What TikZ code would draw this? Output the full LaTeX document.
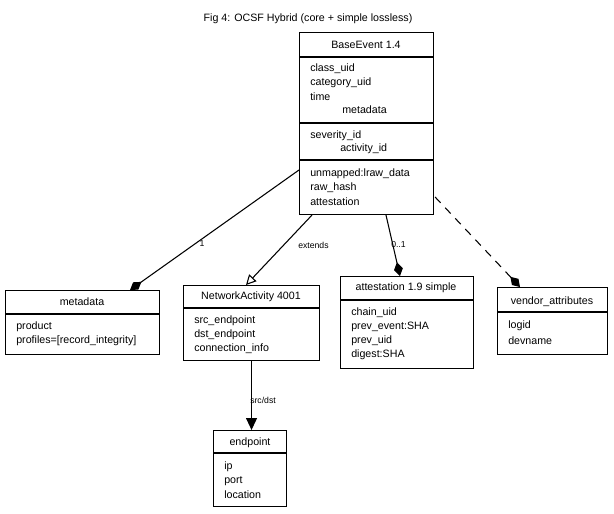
\documentclass[tikz,border=0pt]{standalone}
\usepackage{fontspec}
\setmainfont{Liberation Sans}
\usetikzlibrary{arrows.meta,calc}
\begin{document}
\begin{tikzpicture}[x=0.75pt,y=-0.75pt,
  box/.style={draw,line width=0.8pt,inner sep=0,anchor=north west},
  sep/.style={line width=0.8pt},
  ttl/.style={inner sep=0,font=\fontsize{8}{10}\selectfont},
  ln/.style={inner sep=0,anchor=west,font=\fontsize{8}{10}\selectfont},
  lbl/.style={inner sep=0,font=\fontsize{6.5}{8}\selectfont},
  conn/.style={line width=0.8pt},
  dia/.style={-{Diamond[length=14pt*0.75,width=9pt*0.75,fill=black]}},
]
\useasboundingbox (0,0) rectangle (614,514);
\node[ttl] (title) at (308,19) {Fig 4: OCSF Hybrid (core + simple lossless)};
% BaseEvent
\node[box,minimum width=134*0.75pt,minimum height=182*0.75pt] (be) at (299,32) {};
\draw[sep] (299,57)--(433,57) (299,123)--(433,123) (299,160)--(433,160);
\node[ttl] (bet) at (366,45) {BaseEvent 1.4};
\node[ln] (b1) at (310,69) {class\_uid};
\node[ln] (b2) at (310,83) {category\_uid};
\node[ln] (b3) at (310,97) {time};
\node[ln] (b4) at (342,110) {metadata};
\node[ln] (b5) at (310,136) {severity\_id};
\node[ln] (b6) at (340,149) {activity\_id};
\node[ln] (b7) at (310,174) {unmapped:lraw\_data};
\node[ln] (b8) at (310,188) {raw\_hash};
\node[ln] (b9) at (310,202) {attestation};
% metadata
\node[box,minimum width=154*0.75pt,minimum height=64*0.75pt] (md) at (5,290) {};
\draw[sep] (5,314)--(159,314);
\node[ttl] (mdt) at (82,302) {metadata};
\node[ln] (m1) at (16,327) {product};
\node[ln] (m2) at (16,341) {profiles=[record\_integrity]};
% NetworkActivity
\node[box,minimum width=136*0.75pt,minimum height=75*0.75pt] (na) at (183,285) {};
\draw[sep] (183,308)--(319,308);
\node[ttl] (nat) at (251,297) {NetworkActivity 4001};
\node[ln] (n1) at (194,321) {src\_endpoint};
\node[ln] (n2) at (194,335) {dst\_endpoint};
\node[ln] (n3) at (194,349) {connection\_info};
% attestation
\node[box,minimum width=133*0.75pt,minimum height=92*0.75pt] (at) at (340,276) {};
\draw[sep] (340,300)--(473,300);
\node[ttl] (att) at (406,288) {attestation 1.9 simple};
\node[ln] (a1) at (351,313) {chain\_uid};
\node[ln] (a2) at (351,327) {prev\_event:SHA};
\node[ln] (a3) at (351,341) {prev\_uid};
\node[ln] (a4) at (351,355) {digest:SHA};
% vendor
\node[box,minimum width=110*0.75pt,minimum height=67*0.75pt] (va) at (497,287) {};
\draw[sep] (497,312)--(607,312);
\node[ttl] (vat) at (552,302) {vendor\_attributes};
\node[ln] (v1) at (508,326) {logid};
\node[ln] (v2) at (508,341) {devname};
% endpoint
\node[box,minimum width=73*0.75pt,minimum height=76*0.75pt] (ep) at (213,430) {};
\draw[sep] (213,453)--(286,453);
\node[ttl] (ept) at (250,443) {endpoint};
\node[ln] (e1) at (224,467) {ip};
\node[ln] (e2) at (224,481) {port};
\node[ln] (e3) at (224,495) {location};
% connectors
\coordinate (c1) at ($(be.north west)+(0,138)$);
\draw[conn,dia] (c1) -- ($(md.north west)+(125,0)$);
\node[lbl] (l1) at (202,244) {1};
\draw[conn,-{Triangle[open,length=10pt*0.75,width=10pt*0.75]}] ($(be.south west)+(13,0)$) -- ($(na.north west)+(63,0)$);
\node[lbl,anchor=west] (l2) at (298,245) {extends};
\draw[conn,dia] ($(be.south west)+(87,0)$) -- ($(at.north west)+(60,0)$);
\node[lbl,anchor=west] (l3) at (391,245) {0..1};
\draw[conn,dash pattern=on 6pt off 5pt,dia] ($(be.north east)+(1,165)$) -- ($(va.north west)+(23,0)$);
\draw[conn,-{Triangle[length=12pt*0.75,width=11pt*0.75]}] (na.south) -- (na.south |- ep.north);
\node[lbl,anchor=west] (l4) at (250,400) {src/dst};
\end{tikzpicture}
\end{document}
